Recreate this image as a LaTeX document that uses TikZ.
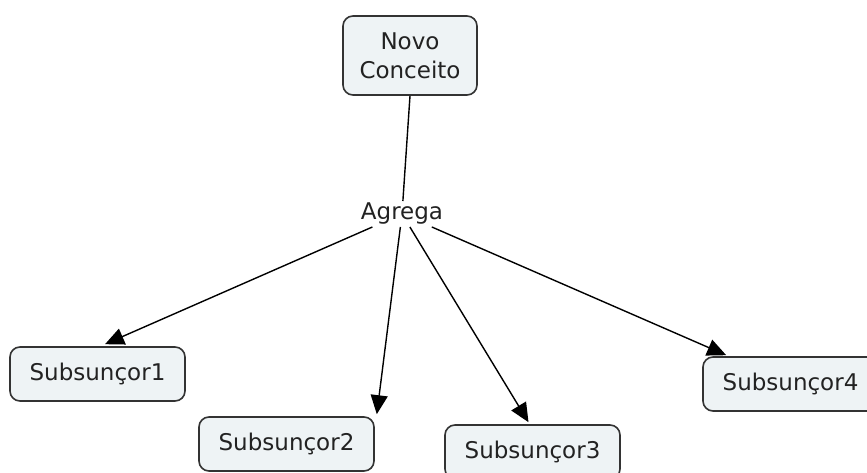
\documentclass[tikz,border=0pt]{standalone}
\usepackage{fontspec}
\setmainfont{DejaVu Sans}
\usetikzlibrary{arrows.meta,calc}
\definecolor{boxfill}{HTML}{EEF3F5}
\definecolor{boxline}{HTML}{333333}
\definecolor{txt}{HTML}{222222}
\begin{document}
\begin{tikzpicture}[x=1pt,y=-1pt,
  concept/.style={draw=boxline,fill=boxfill,line width=1.6pt,rounded corners=10pt,
    minimum width=175pt,minimum height=54pt,inner sep=0pt,text=txt,
    font=\fontsize{23}{29}\selectfont},
  linkword/.style={text=txt,inner sep=2pt,font=\fontsize{23}{29}\selectfont},
  link/.style={draw=black,line width=1.4pt},
  arrowlink/.style={link,-{Triangle[length=19pt,width=17pt]}}]
  \useasboundingbox (0,0) rectangle (867,473);
  % concepts
  \node[concept,minimum width=134pt,minimum height=79pt,align=center] (nc) at (410,55.5) {Novo\\Conceito};
  \node[concept] (s1) at (97.5,374) {Subsunçor1};
  \node[concept] (s2) at (286.5,444) {Subsunçor2};
  \node[concept] (s3) at (532.5,452) {Subsunçor3};
  \node[concept] (s4) at (790.5,384) {Subsunçor4};
  % linking phrase
  \node[linkword] (ag) at (402,214) {Agrega};
  % connectors
  \draw[link] (nc.south) -- (ag);
  \draw[arrowlink] (ag) -- ($(s1.north)+(7.5,-2)$);
  \draw[arrowlink] (ag) -- ($(s2.north east)+(2,-2)$);
  \draw[arrowlink] (ag) -- ($(s3.north)+(-4,-2)$);
  \draw[arrowlink] (ag) -- ($(s4.north west)+(24,-1)$);
\end{tikzpicture}
\end{document}
